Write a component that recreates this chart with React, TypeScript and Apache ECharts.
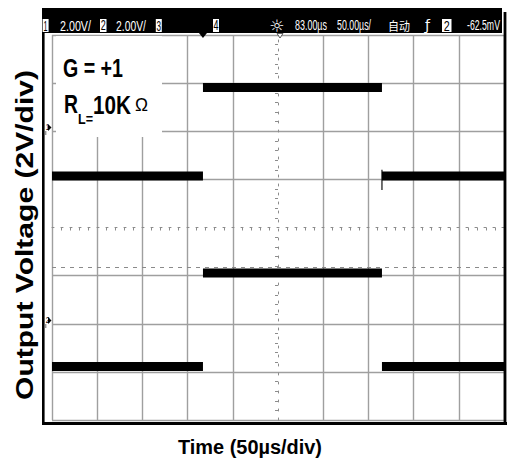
import React, { useEffect, useRef } from "react";
import * as echarts from "echarts";

// Horizontal axis: time in µs relative to screen centre (50 µs/div)
const timeMin = -250;
const timeMax = 250;
const timeStep = 50;
// Vertical axis: screen volts (2 V/div)
const voltMin = -8;
const voltMax = 8;
const voltStep = 2;

// Square-wave segments (edge times in µs) and the level of each segment
const edgeTimes = [-250, -83, 115, 250];
const ch1Levels = [2.14, 5.82, 2.14];
const ch2Levels = [-5.78, -1.89, -5.78];
const ch1FallSpike = [2.4, 1.56];
const triggerLevel = -1.67;

// Texts
const headerLeft = ["1", "2.00V/", "2", "2.00V/", "3", "4"];
const headerRight = ["83.00µs", "50.00µs/", "自动", "ƒ", "2", "-62.5mV"];
const gainText = "G = +1";
const loadMain = "R";
const loadSub = "L=";
const loadValue = "10K";
const loadUnit = "Ω";
const yTitle = "Output Voltage (2V/div)";
const xTitle = "Time (50µs/div)";

const SANS = "Liberation Sans";
const CJK = "Noto Sans CJK SC";

let measureCtx: CanvasRenderingContext2D | null = null;
function measure(text: string, size: number, weight: string, family: string) {
  if (!measureCtx) measureCtx = document.createElement("canvas").getContext("2d");
  if (!measureCtx) return text.length * size * 0.55;
  measureCtx.font = `${weight} ${size}px "${family}"`;
  return measureCtx.measureText(text).width;
}

function fitText(o: {
  text: string; x: number; y: number; width: number; size: number;
  weight?: string; family?: string; fill?: string; align?: string; rotation?: number; z?: number;
}) {
  const weight = o.weight || "normal";
  const family = o.family || SANS;
  const w = measure(o.text, o.size, weight, family);
  const align = o.align || "left";
  return {
    type: "text",
    x: o.x,
    y: o.y,
    rotation: o.rotation || 0,
    scaleX: o.width / w,
    z: o.z ?? 100,
    silent: true,
    style: {
      text: o.text,
      fill: o.fill || "#000",
      fontSize: o.size,
      fontWeight: weight,
      fontFamily: family,
      align,
      verticalAlign: "middle",
      textAlign: align,
      textVerticalAlign: "middle",
    },
  };
}

function splitColors(min: number, max: number, step: number) {
  const n = Math.round((max - min) / step) + 1;
  const arr: string[] = [];
  for (let i = 0; i < n; i++) {
    const v = min + i * step;
    arr.push(Math.abs(v) < 1e-9 ? "rgba(0,0,0,0)" : "#9f9f9f");
  }
  return arr;
}

function bandSeries(levels: number[]) {
  return levels.map((v, i) => ({
    type: "line",
    data: [[edgeTimes[i], v], [edgeTimes[i + 1], v]],
    symbol: "none",
    silent: true,
    z: 5,
    lineStyle: { color: "#000", width: 9, cap: "butt" },
  }));
}

export default function App() {
  const ref = useRef<HTMLDivElement>(null);
  useEffect(() => {
    if (!ref.current) return;
    const chart = echarts.init(ref.current, null, { renderer: "svg" });

    const series: any[] = [
      ...bandSeries(ch1Levels),
      ...bandSeries(ch2Levels),
      {
        type: "line",
        data: [[edgeTimes[2], ch1FallSpike[0]], [edgeTimes[2], ch1FallSpike[1]]],
        symbol: "none",
        silent: true,
        z: 4,
        lineStyle: { color: "#111", width: 1.2 },
      },
      {
        type: "line",
        data: [],
        silent: true,
        markLine: {
          silent: true,
          symbol: "none",
          label: { show: false },
          lineStyle: { color: "#8a8a8a", width: 1.2, type: [4, 5] },
          data: [{ yAxis: triggerLevel }],
        },
      },
    ];

    const axisGray = "#8c8c8c";
    const option: any = {
      animation: false,
      grid: { left: 52, right: 4, top: 35, bottom: 43 },
      xAxis: {
        type: "value",
        min: timeMin,
        max: timeMax,
        interval: timeStep,
        axisLabel: { show: false },
        axisTick: { show: false },
        axisLine: { show: true, onZero: true, lineStyle: { color: axisGray, width: 1, type: [2, 7] } },
        minorTick: { show: true, splitNumber: 5, length: 3, lineStyle: { color: axisGray, width: 1 } },
        splitLine: { show: true, lineStyle: { color: splitColors(timeMin, timeMax, timeStep), width: 1.4 } },
      },
      yAxis: {
        type: "value",
        min: voltMin,
        max: voltMax,
        interval: voltStep,
        axisLabel: { show: false },
        axisTick: { show: false },
        axisLine: { show: true, onZero: true, lineStyle: { color: axisGray, width: 1, type: [2, 7] } },
        minorTick: { show: true, splitNumber: 5, length: 3, lineStyle: { color: axisGray, width: 1 } },
        splitLine: { show: true, lineStyle: { color: splitColors(voltMin, voltMax, voltStep), width: 1.4 } },
      },
      series,
    };
    chart.setOption(option);

    const trigPx = chart.convertToPixel({ gridIndex: 0 }, [edgeTimes[1], 0]) as number[];
    const centrePx = chart.convertToPixel({ gridIndex: 0 }, [0, 0]) as number[];

    const hy = 25.5;
    const hs = 15.5;
    const boxStyle = { fill: "#fff" };
    const graphics: any[] = [
      // top status bar
      { type: "rect", z: 90, silent: true, shape: { x: 42, y: 8, width: 460, height: 25 }, style: { fill: "#000" } },
      // frame
      { type: "rect", z: 90, silent: true, shape: { x: 42, y: 8, width: 2.6, height: 417 }, style: { fill: "#000" } },
      { type: "rect", z: 90, silent: true, shape: { x: 42, y: 422, width: 465, height: 3 }, style: { fill: "#000" } },
      { type: "rect", z: 90, silent: true, shape: { x: 503.6, y: 12, width: 2.8, height: 413 }, style: { fill: "#000" } },
      // channel boxes
      { type: "rect", z: 95, silent: true, shape: { x: 42.6, y: 19, width: 6, height: 13 }, style: boxStyle },
      { type: "rect", z: 95, silent: true, shape: { x: 100, y: 19, width: 6.5, height: 13 }, style: boxStyle },
      { type: "rect", z: 95, silent: true, shape: { x: 155.8, y: 19, width: 6, height: 13 }, style: boxStyle },
      { type: "rect", z: 95, silent: true, shape: { x: 213, y: 19, width: 6, height: 13 }, style: boxStyle },
      { type: "rect", z: 95, silent: true, shape: { x: 442, y: 19, width: 9.5, height: 13 }, style: boxStyle },
      fitText({ text: headerLeft[0], x: 45.6, y: hy, width: 4, size: hs, align: "center" }),
      fitText({ text: headerLeft[1], x: 60, y: hy, width: 31, size: hs, fill: "#fff" }),
      fitText({ text: headerLeft[2], x: 103.2, y: hy, width: 5, size: hs, align: "center" }),
      fitText({ text: headerLeft[3], x: 116, y: hy, width: 30, size: hs, fill: "#fff" }),
      fitText({ text: headerLeft[4], x: 158.8, y: hy, width: 4.5, size: hs, align: "center" }),
      fitText({ text: headerLeft[5], x: 216, y: hy, width: 5, size: hs, align: "center" }),
      { type: "text", x: 277, y: hy, z: 100, silent: true,
        style: { text: "☼", fill: "#fff", fontSize: 17, fontFamily: "DejaVu Sans", align: "center", verticalAlign: "middle", textAlign: "center", textVerticalAlign: "middle" } },
      fitText({ text: headerRight[0], x: 295, y: hy, width: 32, size: hs, fill: "#fff" }),
      fitText({ text: headerRight[1], x: 337, y: hy, width: 34, size: hs, fill: "#fff" }),
      fitText({ text: headerRight[2], x: 388, y: hy, width: 22, size: 12, fill: "#fff", family: CJK }),
      fitText({ text: headerRight[3], x: 425, y: hy, width: 5, size: 14, fill: "#fff", family: "DejaVu Sans" }),
      fitText({ text: headerRight[4], x: 446.8, y: hy, width: 6, size: hs, align: "center" }),
      fitText({ text: headerRight[5], x: 467, y: hy, width: 33, size: hs, fill: "#fff" }),
      // trigger and delay markers
      { type: "polygon", z: 95, silent: true,
        shape: { points: [[trigPx[0] - 4, 33], [trigPx[0] + 4, 33], [trigPx[0], 38]] }, style: { fill: "#000" } },
      { type: "polygon", z: 95, silent: true,
        shape: { points: [[centrePx[0] - 1, 33.5], [centrePx[0] + 5, 33.5], [centrePx[0] + 2, 38]] },
        style: { fill: "#fff", stroke: "#333", lineWidth: 0.8 } },
      // channel ground markers
      fitText({ text: "1", x: 45.8, y: 127, width: 3.5, size: 9, z: 95 }),
      { type: "polygon", z: 95, silent: true, shape: { points: [[48, 124], [51.5, 127.5], [48, 131]] }, style: { fill: "#000" } },
      { type: "line", z: 95, silent: true, shape: { x1: 45.8, y1: 131, x2: 45.8, y2: 135 }, style: { stroke: "#444", lineWidth: 0.8 } },
      fitText({ text: "2", x: 45.8, y: 320, width: 4, size: 9, z: 95 }),
      { type: "polygon", z: 95, silent: true, shape: { points: [[48, 317], [51.5, 320.5], [48, 324]] }, style: { fill: "#000" } },
      { type: "line", z: 95, silent: true, shape: { x1: 45.8, y1: 324, x2: 45.8, y2: 328 }, style: { stroke: "#444", lineWidth: 0.8 } },
      // annotation box
      { type: "rect", z: 90, silent: true, shape: { x: 56, y: 36, width: 106, height: 101 }, style: { fill: "#fff" } },
      fitText({ text: gainText, x: 63, y: 69, width: 60, size: 25, weight: "bold" }),
      fitText({ text: loadMain, x: 64, y: 105, width: 14, size: 25, weight: "bold" }),
      fitText({ text: loadSub, x: 78, y: 119.5, width: 15, size: 14, weight: "bold" }),
      fitText({ text: loadValue, x: 93, y: 105, width: 38, size: 25, weight: "bold" }),
      fitText({ text: loadUnit, x: 135, y: 105, width: 13, size: 19 }),
      // axis titles
      fitText({ text: yTitle, x: 25, y: 235, width: 330, size: 23, weight: "bold", align: "center", rotation: Math.PI / 2 }),
      fitText({ text: xTitle, x: 250, y: 446, width: 144, size: 21, weight: "bold", align: "center" }),
    ];
    chart.setOption({ graphic: { elements: graphics } });

    return () => chart.dispose();
  }, []);
  return <div ref={ref} style={{ position: "fixed", left: 0, top: 0, width: 508, height: 463, background: "#fff" }} />;
}
